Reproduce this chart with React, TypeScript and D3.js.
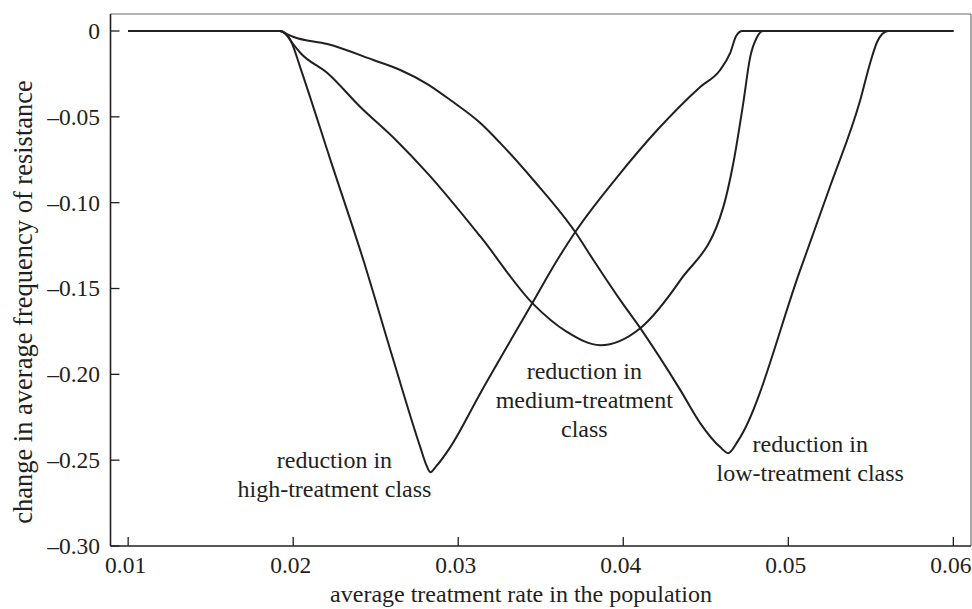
import React from 'react';
import * as d3 from 'd3';

// treatment rate (x) and change in resistance frequency (y) for each class
const highRate = [0.01, 0.0192, 0.01959, 0.01989, 0.02044, 0.02226, 0.02425, 0.02607, 0.0277, 0.02807, 0.02831, 0.02867, 0.02952, 0.03134, 0.03449, 0.036, 0.03709, 0.03963, 0.04206, 0.04466, 0.04587, 0.04648, 0.04684, 0.04721, 0.06];
const highChange = [0, 0, -0.0017, -0.0064, -0.0216, -0.0752, -0.1334, -0.1917, -0.2424, -0.2529, -0.257, -0.2535, -0.2424, -0.211, -0.1585, -0.1334, -0.1171, -0.0851, -0.0577, -0.0326, -0.0227, -0.0128, -0.0029, 0, 0];

const mediumRate = [0.01, 0.0192, 0.01959, 0.01995, 0.02044, 0.02207, 0.02407, 0.02625, 0.02813, 0.03134, 0.03449, 0.03661, 0.03861, 0.04103, 0.04346, 0.04606, 0.04667, 0.04727, 0.04769, 0.04811, 0.04847, 0.06];
const mediumChange = [0, 0, -0.0023, -0.007, -0.0128, -0.0245, -0.0443, -0.0638, -0.0828, -0.1197, -0.1585, -0.1754, -0.183, -0.1731, -0.1451, -0.1026, -0.0769, -0.042, -0.0152, -0.0035, 0, 0];

const lowRate = [0.01, 0.0192, 0.01959, 0.02003, 0.02207, 0.02486, 0.02649, 0.02813, 0.02952, 0.03134, 0.03255, 0.03455, 0.03709, 0.03819, 0.03982, 0.04103, 0.04346, 0.04466, 0.04587, 0.04636, 0.04698, 0.05072, 0.05254, 0.05436, 0.05496, 0.05538, 0.05569, 0.05605, 0.06];
const lowChange = [0, 0, -0.0017, -0.0035, -0.0076, -0.0169, -0.0227, -0.0309, -0.0402, -0.0536, -0.0653, -0.0868, -0.1171, -0.1334, -0.1568, -0.1731, -0.2092, -0.2284, -0.2424, -0.2459, -0.2383, -0.1393, -0.0903, -0.0402, -0.0186, -0.0064, -0.0017, 0, 0];

const xTicks = [0.01, 0.02, 0.03, 0.04, 0.05, 0.06];
const xTickLabels = ['0.01', '0.02', '0.03', '0.04', '0.05', '0.06'];
const yTicks = [0, -0.05, -0.1, -0.15, -0.2, -0.25, -0.3];
const yTickLabels = ['0', '\u20130.05', '\u20130.10', '\u20130.15', '\u20130.20', '\u20130.25', '\u20130.30'];

const labels = [
  { x: 0.0225, y: -0.2547, lines: ['reduction in', 'high-treatment class'] },
  { x: 0.03764, y: -0.2028, lines: ['reduction in', 'medium-treatment', 'class'] },
  { x: 0.05133, y: -0.2452, lines: ['reduction in', 'low-treatment class'] },
];

const W = 972;
const H = 609;
const ink = '#231f20';
const font = '"Liberation Serif", "Times New Roman", serif';

export default function App() {
  const x = d3.scaleLinear().domain([0.00893, 0.06107]).range([110.5, 971]);
  const y = d3.scaleLinear().domain([0.0099, -0.3]).range([14, 546]);

  const line = d3.line<[number, number]>()
    .x(d => x(d[0]))
    .y(d => y(d[1]))
    .curve(d3.curveMonotoneX);

  const series = [
    d3.zip(highRate, highChange),
    d3.zip(mediumRate, mediumChange),
    d3.zip(lowRate, lowChange),
  ] as [number, number][][];

  const [x0, x1] = x.range();
  const [yTop, yBot] = [y.range()[0], y.range()[1]];

  return (
    <div style={{ position: 'absolute', left: 0, top: 0 }}>
      <svg width={W} height={H} style={{ display: 'block', background: '#fff' }}>
        {/* frame */}
        <line x1={x0} x2={x1} y1={yTop} y2={yTop} stroke="#6d6b6b" strokeWidth={1.2} />
        <line x1={x1} x2={x1} y1={yTop} y2={yBot} stroke="#6d6b6b" strokeWidth={1.2} />
        <line x1={x0} x2={x0} y1={yTop} y2={yBot} stroke={ink} strokeWidth={1.6} />
        <line x1={x0} x2={x1} y1={yBot} y2={yBot} stroke={ink} strokeWidth={1.6} />

        {xTicks.map((t, i) => (
          <g key={'xt' + i}>
            <line x1={x(t)} x2={x(t)} y1={yBot} y2={yBot - 9} stroke={ink} strokeWidth={1.3} />
            <text x={x(t) - 2.5} y={573} textAnchor="middle" fontFamily={font} fontSize={23.5} fill={ink}>
              {xTickLabels[i]}
            </text>
          </g>
        ))}
        {yTicks.map((t, i) => (
          <g key={'yt' + i}>
            <line x1={x0} x2={x0 + 9} y1={y(t)} y2={y(t)} stroke={ink} strokeWidth={1.3} />
            <text x={100} y={y(t) + 8} textAnchor="end" fontFamily={font} fontSize={23.5} fill={ink}>
              {yTickLabels[i]}
            </text>
          </g>
        ))}

        {series.map((s, i) => (
          <path key={'s' + i} d={line(s) || ''} fill="none" stroke={ink} strokeWidth={2} strokeLinejoin="round" />
        ))}

        {labels.map((l, i) => (
          <text key={'l' + i} x={x(l.x)} y={y(l.y)} textAnchor="middle" fontFamily={font} fontSize={24} fill={ink}>
            {l.lines.map((s, j) => (
              <tspan key={j} x={x(l.x)} dy={j === 0 ? 0 : 28.7}>{s}</tspan>
            ))}
          </text>
        ))}

        <text x={521} y={602} textAnchor="middle" fontFamily={font} fontSize={24} fill={ink}>
          average treatment rate in the population
        </text>
        <text transform={`translate(32,${302}) rotate(-90)`} textAnchor="middle" fontFamily={font} fontSize={26.5} fill={ink}>
          change in average frequency of resistance
        </text>
      </svg>
    </div>
  );
}
